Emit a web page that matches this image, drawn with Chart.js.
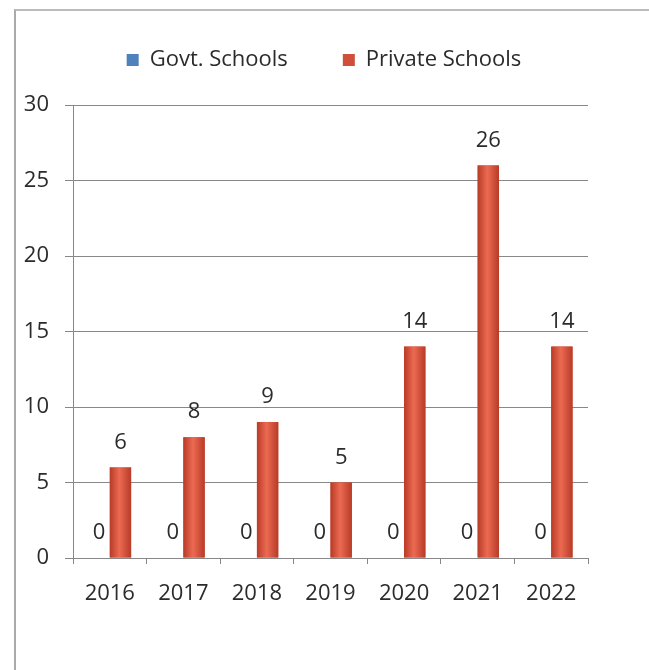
<!DOCTYPE html>
<html>
<head>
<meta charset="utf-8">
<script src="https://cdn.jsdelivr.net/npm/chart.js@4"></script>
<style>
  html, body { margin: 0; padding: 0; background: #fff; }
  #wrap { position: relative; width: 649px; height: 670px; overflow: hidden; }
  #frame { position: absolute; left: 14px; top: 9px; width: 700px; height: 700px;
           border-left: 2px solid #aaa; border-top: 2px solid #bbb; }
  #c { position: absolute; left: 0; top: 0; }
</style>
</head>
<body>
<div id="wrap">
  <div id="frame"></div>
  <canvas id="c" width="649" height="670"></canvas>
</div>
<script>
const years = ["2016","2017","2018","2019","2020","2021","2022"];
const govtSchools = [0, 0, 0, 0, 0, 0, 0];
const privateSchools = [6, 8, 9, 5, 14, 26, 14];
const yTicks = [0, 5, 10, 15, 20, 25, 30];

const FONT = "'Open Sans', Lato, sans-serif";
const FS = 22;
const TXT = "#2b2b2b";

// room under the legend and nudge it where the original sits
const legendPlace = {
  id: "legendPlace",
  beforeInit(chart) {
    const lg = chart.legend;
    if (!lg) return;
    const fit = lg.fit;
    lg.fit = function () { fit.call(this); this.height += 18; };
  },
  afterLayout(chart) {
    const lg = chart.legend;
    lg.left += 30; lg.right += 30;
    lg.top -= 6; lg.bottom -= 6;
  }
};

// rounded shading across bars, like the original 3D look
const barShade = {
  id: "barShade",
  afterDatasetsDraw(chart) {
    const ctx = chart.ctx;
    const colors = [["#3d6396", "#86a8d8"], ["#b83b27", "#ec6a52"]];
    ctx.save();
    chart.data.datasets.forEach((ds, i) => {
      const c = colors[i];
      chart.getDatasetMeta(i).data.forEach(bar => {
        const h = bar.base - bar.y;
        if (h <= 0) return;
        const l = bar.x - bar.width / 2;
        const g = ctx.createLinearGradient(l, 0, l + bar.width, 0);
        g.addColorStop(0, c[0]);
        g.addColorStop(0.45, c[1]);
        g.addColorStop(1, c[0]);
        ctx.fillStyle = g;
        ctx.fillRect(l, bar.y, bar.width, h);
      });
    });
    ctx.restore();
  }
};

// value labels above each bar
const valueLabels = {
  id: "valueLabels",
  afterDatasetsDraw(chart) {
    const ctx = chart.ctx;
    ctx.save();
    ctx.font = FS + "px " + FONT;
    ctx.fillStyle = TXT;
    ctx.textAlign = "center";
    ctx.textBaseline = "middle";
    chart.data.datasets.forEach((ds, i) => {
      chart.getDatasetMeta(i).data.forEach((bar, j) => {
        ctx.fillText(String(ds.data[j]), bar.x, bar.y - 25);
      });
    });
    ctx.restore();
  }
};

new Chart(document.getElementById("c"), {
  type: "bar",
  data: {
    labels: years,
    datasets: [
      { label: "Govt. Schools", data: govtSchools, backgroundColor: "#4F81BD" },
      { label: "Private Schools", data: privateSchools, backgroundColor: "#D04F3A" }
    ]
  },
  options: {
    responsive: false,
    animation: false,
    layout: { padding: { top: 0, right: 61, left: 0, bottom: 0 } },
    datasets: { bar: { categoryPercentage: 0.58, barPercentage: 1 } },
    plugins: {
      legend: {
        position: "top",
        labels: {
          font: { family: FONT, size: FS },
          color: TXT,
          boxWidth: 12,
          boxHeight: 12,
          padding: 55
        }
      },
      tooltip: { enabled: false }
    },
    scales: {
      x: {
        afterFit: s => { s.height = 112; },
        grid: { display: true, drawOnChartArea: false, offset: true, tickLength: 6, color: "#888" },
        border: { color: "#888", width: 1 },
        ticks: { font: { family: FONT, size: FS }, color: TXT, padding: 17 }
      },
      y: {
        min: 0,
        max: 30,
        afterFit: s => { s.width = 73; },
        afterBuildTicks: s => { s.ticks = yTicks.map(v => ({ value: v })); },
        grid: { color: "#888", tickLength: 8 },
        border: { color: "#888", width: 1 },
        ticks: { font: { family: FONT, size: FS }, color: TXT, padding: 16 }
      }
    }
  },
  plugins: [legendPlace, barShade, valueLabels]
});
</script>
</body>
</html>
